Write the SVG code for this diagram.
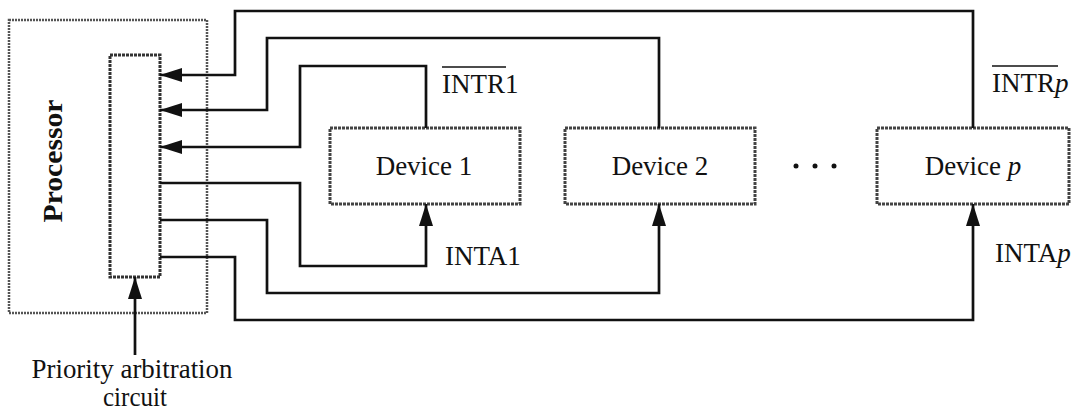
<svg xmlns="http://www.w3.org/2000/svg" width="1082" height="414" viewBox="0 0 1082 414">
<style>
.t{font-family:"Liberation Serif","Times New Roman",serif;font-size:27px;fill:#111}
.dev{fill:#fff;stroke:#444;stroke-width:3;stroke-dasharray:3 1}
.ln{fill:none;stroke:#111;stroke-width:2.7}
.ov{stroke:#111;stroke-width:1.5}
</style>
<defs>
<marker id="ah" markerUnits="userSpaceOnUse" markerWidth="24" markerHeight="14" refX="22" refY="7" orient="auto">
<path d="M0,0 L22,7 L0,14 Z" fill="#111"/>
</marker>
</defs>
<rect width="1082" height="414" fill="#fff"/>
<g id="processor">
<rect x="9" y="20" width="198" height="293" fill="#fff" stroke="#555" stroke-width="2.5" stroke-dasharray="2 1"/>
<text class="t" transform="translate(62,161) rotate(-90)" text-anchor="middle" font-weight="bold" font-size="28" textLength="123" lengthAdjust="spacingAndGlyphs">Processor</text>
</g>
<g id="priority">
<rect x="110" y="55" width="50" height="222" fill="#fff" stroke="#333" stroke-width="3" stroke-dasharray="3 1"/>
</g>
<g id="device1">
<rect class="dev" x="330" y="128" width="190" height="76"/>
<text class="t" x="424" y="175" text-anchor="middle">Device 1</text>
</g>
<g id="device2">
<rect class="dev" x="565" y="128" width="190" height="76"/>
<text class="t" x="660" y="175" text-anchor="middle">Device 2</text>
</g>
<g id="devicep">
<rect class="dev" x="877" y="128" width="192" height="76"/>
<text class="t" x="973" y="175" text-anchor="middle">Device <tspan font-style="italic">p</tspan></text>
</g>
<g id="dots" fill="#111">
<circle cx="796" cy="166" r="2.5"/><circle cx="815" cy="166" r="2.5"/><circle cx="834" cy="166" r="2.5"/>
</g>
<g id="connectors" class="ln">
<path class="ln" d="M973 128 V11 H235 V75 H160" marker-end="url(#ah)"/>
<path class="ln" d="M659 128 V38 H267 V110 H160" marker-end="url(#ah)"/>
<path class="ln" d="M426 128 V66 H300 V147 H160" marker-end="url(#ah)"/>
<path class="ln" d="M160 183 H300 V266 H426 V204" marker-end="url(#ah)"/>
<path class="ln" d="M160 220 H267 V293 H659 V204" marker-end="url(#ah)"/>
<path class="ln" d="M160 257 H235 V320 H973 V204" marker-end="url(#ah)"/>
<path class="ln" d="M135 355 V277" marker-end="url(#ah)"/>
</g>
<g id="labels">
<text class="t" x="442" y="93">INTR1</text>
<line class="ov" x1="442" y1="67" x2="506" y2="67"/>
<text class="t" x="445" y="265">INTA1</text>
<text class="t" x="992" y="92">INTR<tspan font-style="italic">p</tspan></text>
<line class="ov" x1="992" y1="66" x2="1058" y2="66"/>
<text class="t" x="995" y="262">INTA<tspan font-style="italic">p</tspan></text>
<text class="t" x="132" y="378" text-anchor="middle" font-size="23" textLength="201" lengthAdjust="spacingAndGlyphs">Priority arbitration</text>
<text class="t" x="135" y="406" text-anchor="middle" font-size="23" textLength="64" lengthAdjust="spacingAndGlyphs">circuit</text>
</g>
</svg>
